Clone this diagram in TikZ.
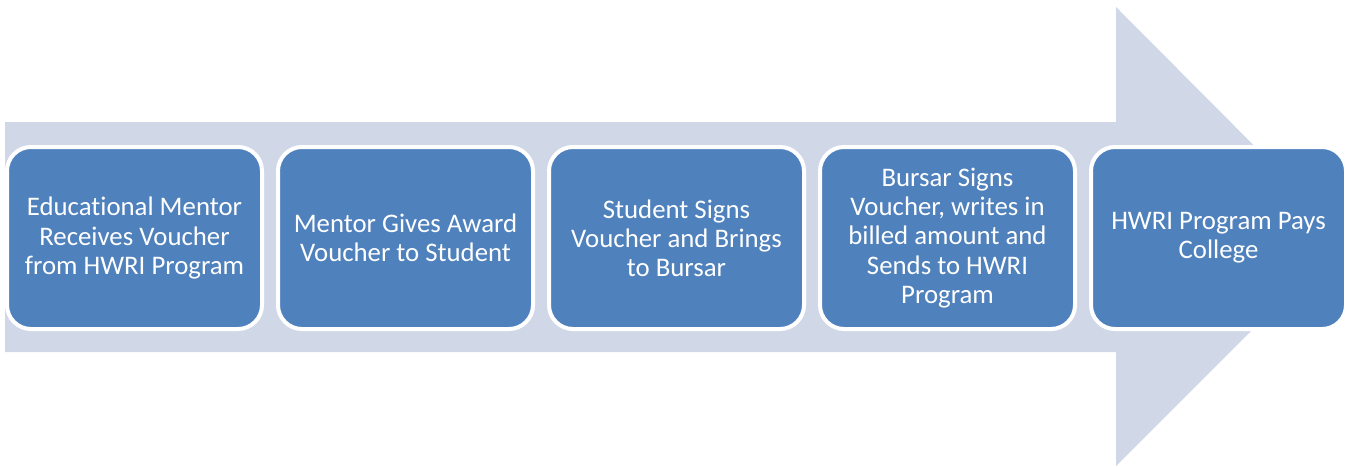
\documentclass[tikz,border=0pt]{standalone}
\usepackage{fontspec}
\setmainfont[Ligatures=NoCommon]{Carlito}
\usetikzlibrary{positioning}
\definecolor{arrowgray}{HTML}{D0D8E8}
\definecolor{stepblue}{HTML}{4F81BD}
\tikzstyle{stepbox}=[draw=white,line width=2pt,fill=stepblue,rounded corners=12pt,
	minimum width=127.5pt,minimum height=91pt,align=center,text=white,
	font=\fontsize{13.4}{14.6}\selectfont]

\begin{document}
\begin{tikzpicture}[x=0.5pt, y=-0.5pt, node distance=6pt]
	\useasboundingbox (0,0) rectangle (1348,466);
	%arrow
	\fill[arrowgray] (5,122) -- (1116,122) -- (1116,7) -- (1345,237)
		-- (1116,466) -- (1116,352) -- (5,352) -- cycle;
	%steps
	\node[stepbox] (mentor) at (134.5,238) {Educational Mentor\\Receives Voucher\\from HWRI Program};
	\node[stepbox, right=of mentor] (award) {Mentor Gives Award\\Voucher to Student};
	\node[stepbox, right=of award] (student) {Student Signs\\Voucher and Brings\\to Bursar};
	\node[stepbox, right=of student] (bursar) {Bursar Signs\\Voucher, writes in\\billed amount and\\Sends to HWRI\\Program};
	\node[stepbox, right=of bursar] (pays) {HWRI Program Pays\\College};
\end{tikzpicture}
\end{document}
